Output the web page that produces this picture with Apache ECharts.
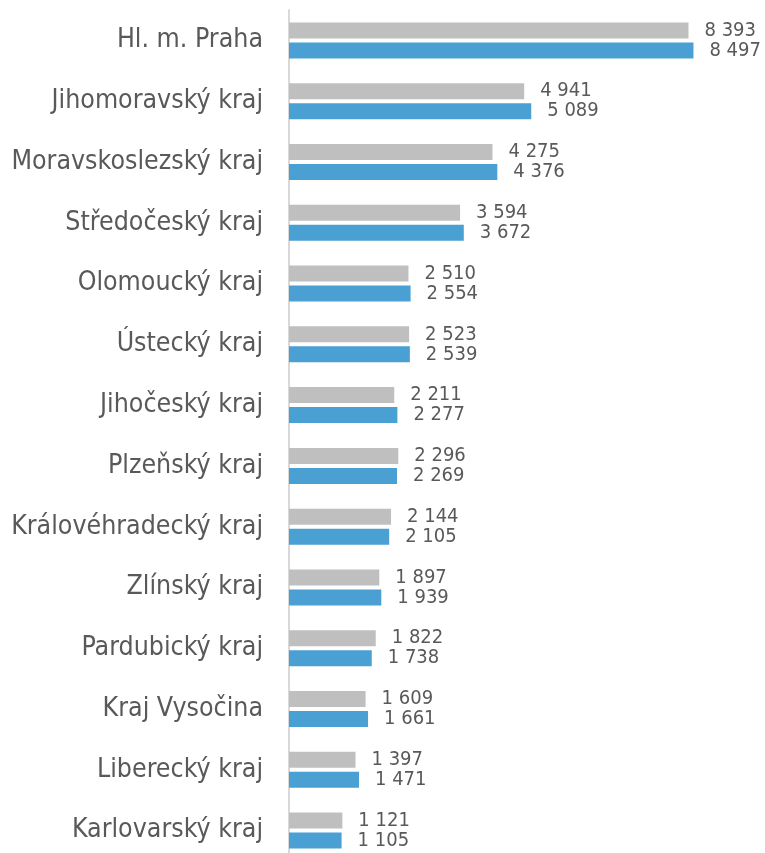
<!DOCTYPE html>
<html>
<head>
<meta charset="utf-8">
<script src="https://cdn.jsdelivr.net/npm/echarts@6/dist/echarts.min.js"></script>
<style>
  html, body { margin: 0; padding: 0; background: #fff; overflow: hidden; }
  #chart { width: 765px; height: 861px; }
</style>
</head>
<body>
<div id="chart"></div>
<script>
const regions = [
  "Hl. m. Praha", "Jihomoravský kraj", "Moravskoslezský kraj", "Středočeský kraj",
  "Olomoucký kraj", "Ústecký kraj", "Jihočeský kraj", "Plzeňský kraj",
  "Královéhradecký kraj", "Zlínský kraj", "Pardubický kraj", "Kraj Vysočina",
  "Liberecký kraj", "Karlovarský kraj"
];
const greyValues = [8393, 4941, 4275, 3594, 2510, 2523, 2211, 2296, 2144, 1897, 1822, 1609, 1397, 1121];
const blueValues = [8497, 5089, 4376, 3672, 2554, 2539, 2277, 2269, 2105, 1939, 1738, 1661, 1471, 1105];

const fontFamily = "'DejaVu Sans Condensed', 'DejaVu Sans'";
// thousands separated by a space, as in the source
const fmt = (v) => String(v).replace(/\B(?=(\d{3})+(?!\d))/g, " ");

const chart = echarts.init(document.getElementById("chart"));

const label = {
  show: true,
  position: "right",
  distance: 16,
  color: "#595959",
  fontFamily: fontFamily,
  fontSize: 20,
  formatter: (p) => fmt(p.value)
};

chart.setOption({
  animation: false,
  grid: { left: 289, right: 0, top: 10, bottom: 0 },
  xAxis: {
    type: "value",
    min: 0,
    max: 10000,
    show: false
  },
  yAxis: {
    type: "category",
    data: regions,
    inverse: true,
    axisLine: { show: true, lineStyle: { color: "#d9d9d9", width: 2 } },
    axisTick: { show: false },
    axisLabel: {
      margin: 26,
      color: "#595959",
      fontFamily: fontFamily,
      fontSize: 26.5
    }
  },
  series: [
    {
      name: "grey",
      type: "bar",
      data: greyValues,
      barWidth: 16,
      barGap: "25%",
      itemStyle: { color: "#bfbfbf" },
      label: label
    },
    {
      name: "blue",
      type: "bar",
      data: blueValues,
      barWidth: 16,
      itemStyle: { color: "#4a9fd3" },
      label: label
    }
  ]
});
</script>
</body>
</html>
